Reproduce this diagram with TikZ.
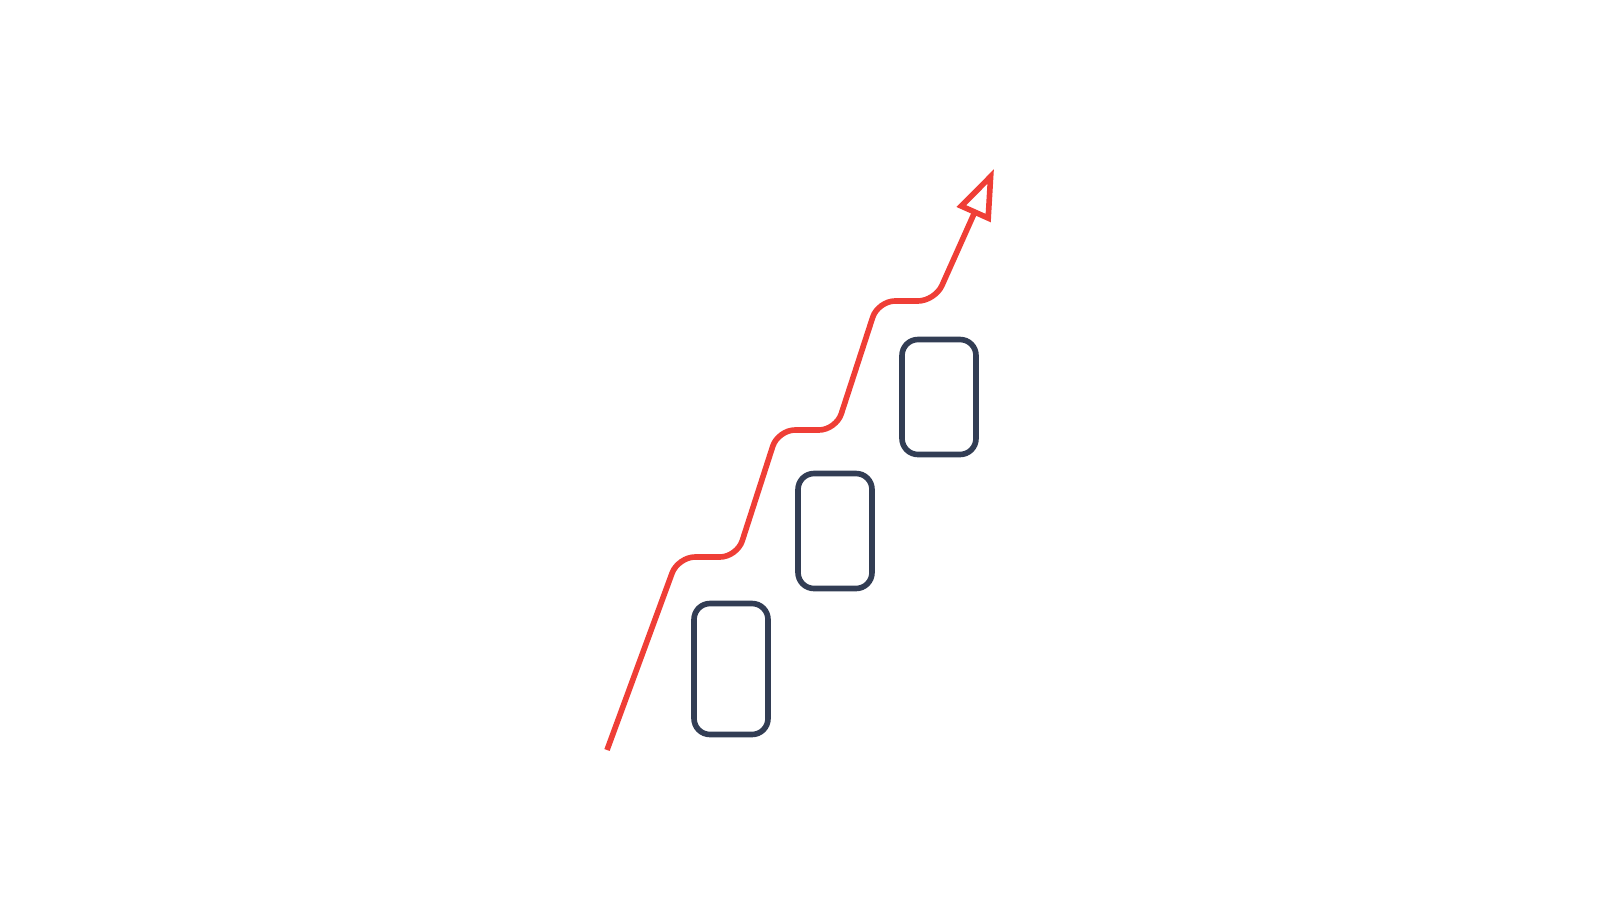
\documentclass[tikz,border=0pt]{standalone}
\usepackage{tikz}
\usetikzlibrary{arrows.meta}

\definecolor{vermell}{RGB}{239,62,54}
\definecolor{fosc}{RGB}{50,61,84}

\tikzset{
    bloc/.style={draw=fosc, line width=1.6pt, rounded corners=0.16cm, inner sep=0pt, minimum width=0.74cm},
    pujada/.style={draw=vermell, line width=1.6pt, rounded corners=0.17cm, -{Triangle[open, fill=white, length=0.5cm, width=0.36cm]}}
}

\begin{document}
\begin{tikzpicture}
    % 0. MARGES (16 x 9)
    \useasboundingbox (0,0) rectangle (16,9);

    % 1. ELS BLOCS (esglaons)
    \foreach \n/\x/\y/\h in {1/7.31/2.31/1.31, 2/8.35/3.69/1.15, 3/9.39/5.03/1.15} {
        \node[bloc, minimum height=\h cm] (bloc\n) at (\x,\y) {};
    }

    % 2. LA LÍNIA QUE PUJA
    \draw[pujada] (6.07,1.50) -- (6.78,3.43) -- (7.37,3.43) -- (7.78,4.70)
        -- (8.36,4.70) -- (8.78,5.99) -- (9.35,5.99) -- (9.94,7.31);

\end{tikzpicture}
\end{document}
